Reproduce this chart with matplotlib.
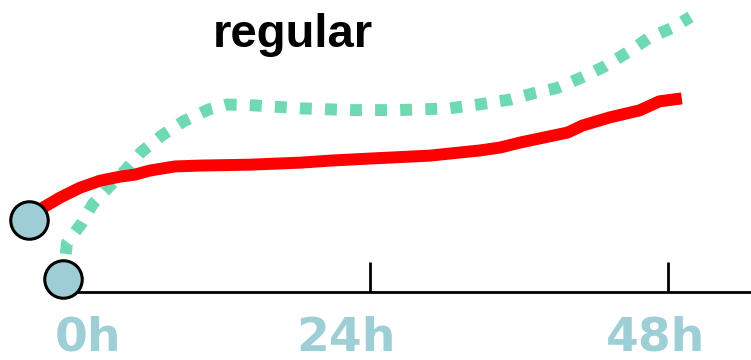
import matplotlib.pyplot as plt

# hours on the x axis, values in arbitrary units (0 = axis line)
red_h = [-3.46, -2.33, -0.97, 0.64, 2.25, 3.86, 5.07, 6.28, 8.29, 10.3, 14.3, 18.4,
         20.8, 24.0, 28.8, 32.9, 34.5, 36.1, 39.9, 41.1, 43.3, 45.7, 47.3, 49.1]
red_v = [24.7, 28.9, 32.3, 35.7, 38.1, 39.5, 40.2, 41.6, 43.0, 43.3, 43.6, 44.3,
         45.0, 45.7, 46.7, 48.5, 49.5, 51.2, 54.6, 57.0, 59.8, 62.2, 65.3, 66.3]

green_h = [-0.72, -0.4, 0.81, 1.69, 3.06, 4.27, 5.6, 7.2, 9.0, 11.0, 12.5, 14.3, 18.4,
           22.4, 26.4, 30.4, 32.9, 35.4, 37.1, 39.0, 40.9, 42.9, 45.0, 46.4, 48.3, 49.8]
green_v = [4.5, 16.8, 23.7, 30.2, 36.4, 41.6, 48.0, 53.5, 58.5, 62.5, 64.2, 64.0, 62.9,
           62.3, 62.3, 62.9, 64.3, 66.0, 68.0, 69.8, 73.2, 77.3, 82.8, 86.9, 90.4, 94.2]

label_pos = [1.3, 22.1, 47.0]
tick_labels = ['0h', '24h', '48h']
tick_marks = [24, 48]

fig = plt.figure(figsize=(7.51, 3.6), dpi=100)
ax = fig.add_axes([63 / 751, 68 / 360, 688 / 751, 292 / 360])
ax.set_xlim(-0.72, 54.67)
ax.set_ylim(0, 100)

ax.plot(red_h, red_v, color='#ff0000', lw=8.6, solid_capstyle='butt', clip_on=False, zorder=3)
ax.plot(green_h, green_v, color='#6fdab1', lw=8.6, linestyle=(0, (1.0, 1.1)),
        clip_on=False, zorder=2)

# start circles
ax.plot([red_h[0]], [red_v[0]], 'o', ms=27, mfc='#9ecdd5', mec='black', mew=2.2,
        clip_on=False, zorder=5)
ax.plot([green_h[0]], [green_v[0]], 'o', ms=27, mfc='#9ecdd5', mec='black', mew=2.2,
        clip_on=False, zorder=5)

for s in ['top', 'right', 'left']:
    ax.spines[s].set_visible(False)
ax.spines['bottom'].set_linewidth(2.0)
ax.set_yticks([])

ax.set_xticks(label_pos)
ax.set_xticklabels(tick_labels, fontsize=34, fontweight='bold', color='#9ecfd7',
                   family='DejaVu Sans')
ax.tick_params(axis='x', which='major', length=0, pad=17)
ax.set_xticks(tick_marks, minor=True)
ax.tick_params(axis='x', which='minor', direction='in', length=21.5, width=2.0)

fig.text(293 / 751, 1 - 47 / 360, 'regular', ha='center', va='baseline',
         fontsize=34, fontweight='bold', family='Liberation Sans')

fig.savefig('out.png', dpi=100)
